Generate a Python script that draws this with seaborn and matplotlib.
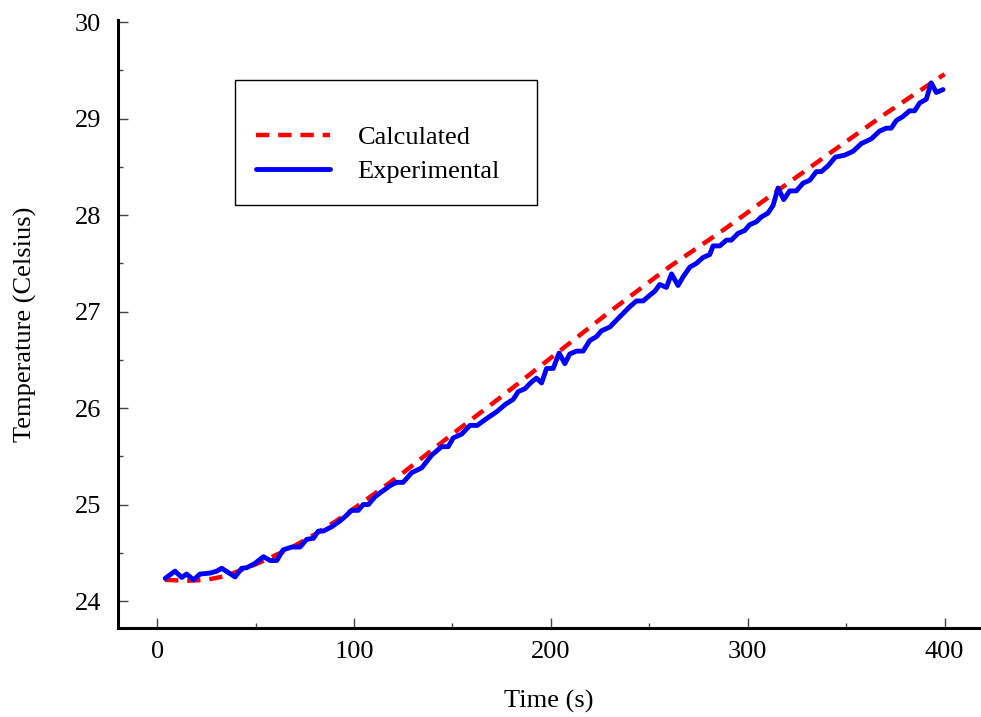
import matplotlib
matplotlib.use("Agg")
import matplotlib.pyplot as plt
from matplotlib.ticker import MultipleLocator
import seaborn as sns
import pandas as pd

# Calculated temperature (smooth model curve)
calc_time = [4, 15, 25, 35, 50, 67, 80, 91, 100, 113, 125, 150, 175, 200,
             230, 260, 288, 315, 343, 370, 400]
calc_temp = [24.22, 24.21, 24.22, 24.26, 24.38, 24.54, 24.69, 24.83, 24.96,
             25.15, 25.33, 25.73, 26.12, 26.52, 27.00, 27.46, 27.85, 28.25,
             28.66, 29.05, 29.46]

# Experimental temperature (measured)
exp_time = [4.1, 9.1, 12.5, 15.0, 18.5, 21.8, 26.9, 30.3, 32.8, 39.6, 43.0,
            45.5, 49.7, 54.0, 57.4, 60.8, 64.0, 68.4, 72.6, 76.0, 79.4, 81.9,
            84.4, 88.7, 92.9, 96.3, 98.8, 102.2, 104.7, 107.3, 110.7, 113.2,
            118.3, 121.7, 125.0, 129.3, 134.4, 139.4, 144.5, 147.9, 150.4,
            154.7, 158.9, 162.6, 167.3, 172.4, 177.0, 180.9, 183.4, 186.8,
            190.2, 192.7, 195.3, 197.8, 201.2, 204.2, 207.1, 209.6, 213.0,
            216.4, 219.8, 223.2, 225.7, 230.0, 233.3, 236.7, 240.1, 243.5,
            246.9, 250.3, 252.8, 255.3, 258.7, 261.3, 264.6, 267.2, 270.6,
            274.0, 277.3, 280.7, 282.4, 285.8, 289.2, 291.7, 295.1, 298.5,
            301.0, 304.4, 306.9, 310.3, 312.9, 315.4, 318.3, 321.3, 324.7,
            328.1, 331.5, 334.9, 337.4, 340.8, 344.5, 349.2, 353.5, 357.7,
            362.8, 367.0, 370.4, 372.9, 375.5, 378.8, 382.2, 384.8, 387.3,
            390.7, 393.2, 395.8, 399.2]
exp_temp = [24.235, 24.31, 24.245, 24.28, 24.22, 24.28, 24.29, 24.31, 24.34,
            24.25, 24.34, 24.345, 24.39, 24.46, 24.42, 24.42, 24.53, 24.56,
            24.56, 24.64, 24.65, 24.725, 24.725, 24.77, 24.83, 24.89, 24.94,
            24.94, 25.00, 25.00, 25.08, 25.12, 25.195, 25.23, 25.23, 25.33,
            25.38, 25.51, 25.60, 25.60, 25.69, 25.73, 25.82, 25.82, 25.89,
            25.96, 26.04, 26.09, 26.17, 26.20, 26.27, 26.31, 26.26, 26.41,
            26.41, 26.57, 26.46, 26.56, 26.59, 26.59, 26.70, 26.74, 26.80,
            26.84, 26.91, 26.98, 27.05, 27.11, 27.11, 27.17, 27.21, 27.28,
            27.25, 27.39, 27.27, 27.36, 27.46, 27.50, 27.56, 27.59, 27.68,
            27.68, 27.74, 27.74, 27.81, 27.84, 27.90, 27.93, 27.98, 28.02,
            28.10, 28.28, 28.16, 28.25, 28.25, 28.33, 28.36, 28.45, 28.45,
            28.51, 28.60, 28.62, 28.66, 28.74, 28.79, 28.87, 28.90, 28.90,
            28.98, 29.02, 29.08, 29.08, 29.16, 29.20, 29.37, 29.27, 29.30]

calc_df = pd.DataFrame({"Time (s)": calc_time, "Temperature": calc_temp})
exp_df = pd.DataFrame({"Time (s)": exp_time, "Temperature": exp_temp})

sns.set_style("ticks")
plt.rcParams["font.family"] = ["Liberation Serif", "DejaVu Serif"]
plt.rcParams["font.size"] = 19
plt.rcParams["text.color"] = "black"
plt.rcParams["axes.labelcolor"] = "black"

fig = plt.figure(figsize=(9.81, 7.17), dpi=100)
ax = fig.add_axes([0.120, 0.124, 0.879, 0.848])

sns.lineplot(data=calc_df, x="Time (s)", y="Temperature", ax=ax,
             color="#ff0000", lw=3.2, dashes=False, estimator=None, sort=False,
             label="Calculated")
ax.lines[-1].set_dashes((3, 2))
sns.lineplot(data=exp_df, x="Time (s)", y="Temperature", ax=ax,
             color="#0000ff", lw=3.5, estimator=None, sort=False,
             label="Experimental")

ax.set_xlim(-20, 418)
ax.set_ylim(23.72, 30.02)
ax.xaxis.set_major_locator(MultipleLocator(100))
ax.xaxis.set_minor_locator(MultipleLocator(50))
ax.yaxis.set_major_locator(MultipleLocator(1))
ax.yaxis.set_minor_locator(MultipleLocator(0.5))

ax.set_xlabel("Time (s)", fontsize=19, labelpad=20)
ax.set_ylabel("Temperature (Celsius)", fontsize=19, labelpad=27)

sns.despine(ax=ax)
for side in ["left", "bottom"]:
    ax.spines[side].set_linewidth(2.2)
    ax.spines[side].set_color("black")

ax.tick_params(axis="both", which="major", direction="in", length=7.5,
               width=1, color="#444444", labelsize=19, labelcolor="black")
ax.tick_params(axis="both", which="minor", direction="in", length=3.6,
               width=1, color="#444444")
ax.tick_params(axis="x", which="major", pad=9)
ax.tick_params(axis="y", which="major", pad=12)

leg = ax.legend(loc="upper left", bbox_to_anchor=(0.136, 0.5, 0.350, 0.401),
                mode="expand", borderaxespad=0, fontsize=19,
                frameon=True, fancybox=False, framealpha=1,
                borderpad=0.8, handlelength=2.8, handletextpad=1.05,
                labelspacing=0.42, title=" ", title_fontsize=11,
                labelcolor="black")
leg.get_frame().set_edgecolor("black")
leg.get_frame().set_linewidth(1.0)

fig.savefig("out.png", dpi=100)
